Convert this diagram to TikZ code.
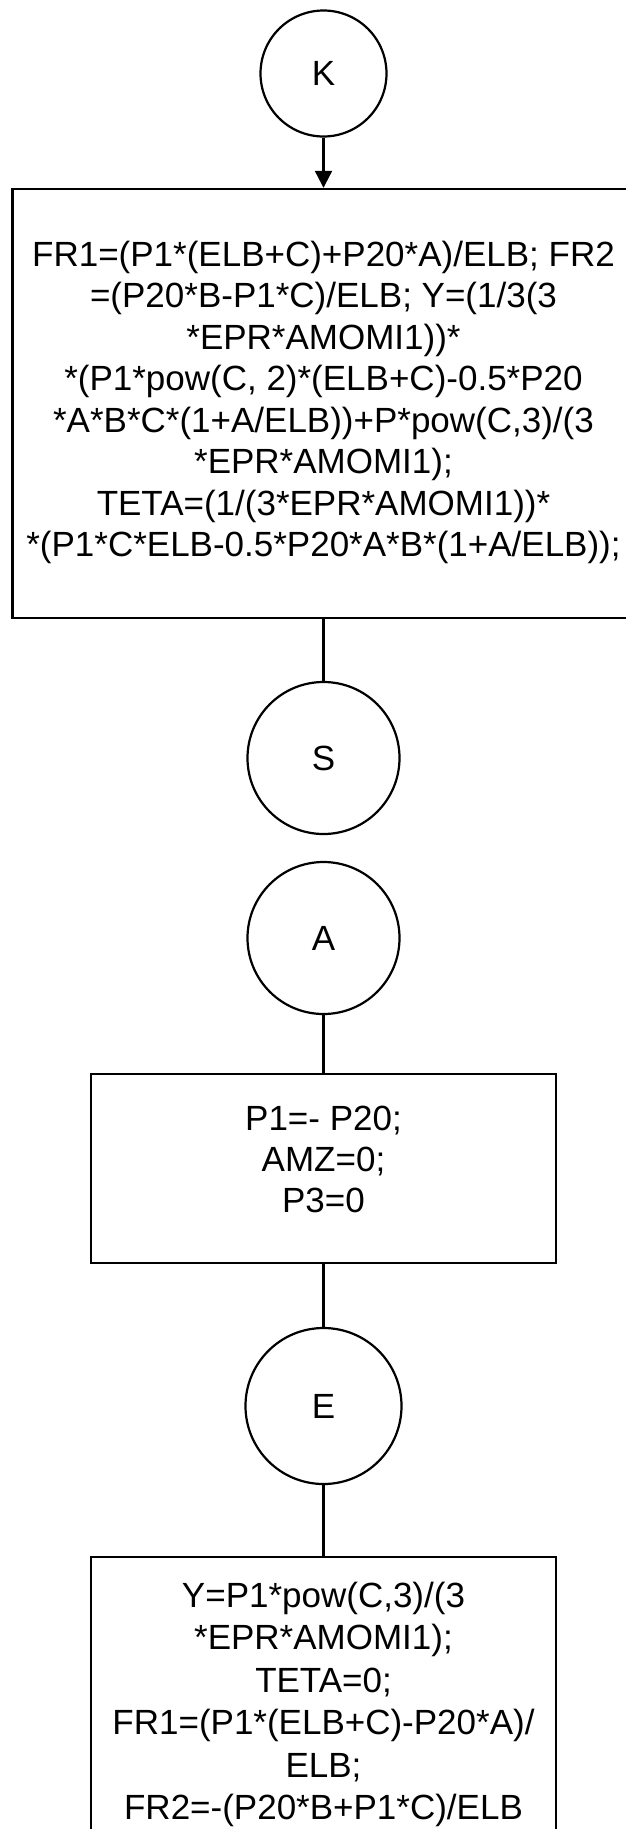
\documentclass[tikz,border=0pt]{standalone}
\usepackage{fontspec}
\setmainfont{Liberation Sans}
\usetikzlibrary{arrows.meta}
\tikzset{
  conn/.style={draw, circle, line width=2.2pt, inner sep=0pt, font=\fontsize{35}{41}\selectfont},
  procbox/.style={draw, rectangle, line width=2.4pt, inner sep=0pt},
  txt/.style={align=center, inner sep=0pt},
  link/.style={line width=2.2pt},
}
\newcommand{\lnst}{\strut}
\begin{document}
\begin{tikzpicture}[x=1pt,y=-1pt]
\useasboundingbox (0,0) rectangle (626,1829);
% connector circles
\node[conn, minimum size=126pt] (K) at (323.5,73.5) {K};
\node[conn, minimum size=152pt] (S) at (323.5,758) {S};
\node[conn, minimum size=152pt] (A) at (323.5,938) {A};
\node[conn, minimum size=156pt] (E) at (323.5,1406) {E};
% process boxes
\node[procbox, minimum width=622pt, minimum height=429pt] (b1) at (323.5,403.5) {};
\node[procbox, minimum width=465pt, minimum height=189pt] (b2) at (323.5,1168.5) {};
\node[procbox, minimum width=465pt, minimum height=330pt] (b3) at (323.5,1722) {};
% texts
\node[txt, font=\fontsize{35}{41.5}\selectfont] (t1) at (323.5,403) {\lnst FR1=(P1*(ELB+C)+P20*A)/ELB; FR2\\\lnst =(P20*B-P1*C)/ELB; Y=(1/3(3\\\lnst *EPR*AMOMI1))*\\\lnst *(P1*pow(C, 2)*(ELB+C)-0.5*P20\\\lnst *A*B*C*(1+A/ELB))+P*pow(C,3)/(3\\\lnst *EPR*AMOMI1);\\\lnst TETA=(1/(3*EPR*AMOMI1))*\\\lnst *(P1*C*ELB-0.5*P20*A*B*(1+A/ELB));};
\node[txt, font=\fontsize{35}{41}\selectfont] (t2) at (323.5,1162.8) {\lnst P1=- P20;\\\lnst AMZ=0;\\\lnst P3=0};
\node[txt, font=\fontsize{35}{42.5}\selectfont] (t3) at (323.5,1704.75) {\lnst Y=P1*pow(C,3)/(3\\\lnst *EPR*AMOMI1);\\\lnst TETA=0;\\\lnst FR1=(P1*(ELB+C)-P20*A)/\\\lnst ELB;\\\lnst FR2=-(P20*B+P1*C)/ELB};
% connectors
\draw[link, -{Triangle[length=17pt,width=17pt]}] (K) -- (b1);
\draw[link] (b1) -- (S);
\draw[link] (A) -- (b2);
\draw[link] (b2) -- (E);
\draw[link] (E) -- (b3);
\end{tikzpicture}
\end{document}
